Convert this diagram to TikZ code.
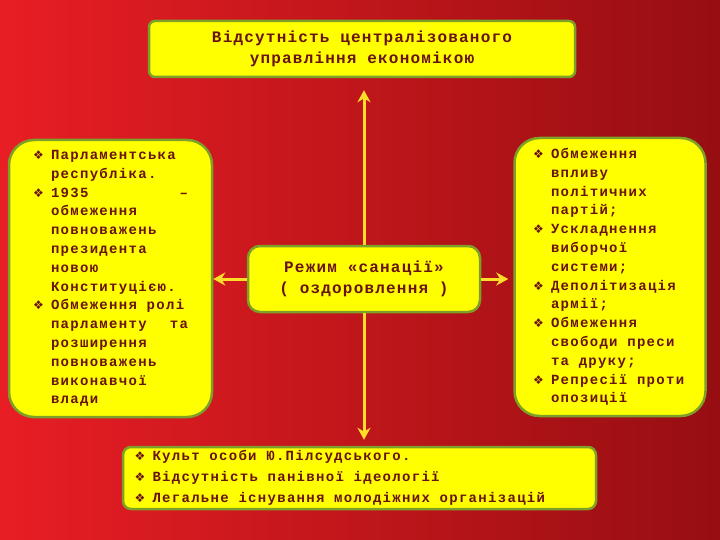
\documentclass[tikz,border=0pt]{standalone}
\usepackage{fontspec}
\usepackage{xcolor}
\usetikzlibrary{arrows.meta}
\newfontfamily\boxfont{Liberation Mono}[LetterSpace=9.3]
\newfontfamily\headfont{Liberation Mono}[LetterSpace=7.5]
\newfontfamily\symfont{DejaVu Sans}
\definecolor{bgred}{RGB}{232,30,36}
\definecolor{bgdark}{RGB}{150,14,18}
\definecolor{boxyellow}{RGB}{255,255,0}
\definecolor{boxrim}{RGB}{125,160,40}
\definecolor{txtred}{RGB}{105,18,18}
\definecolor{arryellow}{RGB}{255,222,40}
\newcommand{\bulmark}{\noindent\hangindent=18pt\hangafter=1\makebox[18pt][l]{\symfont\fontsize{12}{12}\selectfont ❖}}
\newcommand{\bul}{\par\bulmark}
\newcommand{\nl}{\unskip\hfil\break}
\newcommand{\wsp}{\spaceskip=9.7pt\relax\xspaceskip=9.7pt\relax}

\begin{document}
\begin{tikzpicture}[x=1pt,y=-1pt,
  box/.style={draw=boxrim,line width=2.5pt,fill=boxyellow,text=txtred,inner sep=0pt},
  body/.style={font=\boxfont\bfseries\fontsize{14}{18.8}\selectfont},
  head/.style={font=\headfont\bfseries\fontsize{16}{21}\selectfont,align=center},
  arr/.style={draw=arryellow,line width=3pt,-{Stealth[length=12pt,width=13pt]}}]
\useasboundingbox (0,0) rectangle (720,540);
\shade[left color=bgred,right color=bgdark] (0,0) rectangle (720,540);
\node[box,head,rounded corners=6pt,minimum width=426pt,minimum height=56pt] (econ) at (362,49)
  {Відсутність централізованого\\управління економікою};
\node[box,head,rounded corners=12pt,minimum width=232pt,minimum height=66pt] (regime) at (364,279)
  {Режим «санації»\\( оздоровлення )};
\node[box,body,rounded corners=25pt,minimum width=203pt,minimum height=277pt,text width=155pt] (parl) at (110.5,278.5)
  {\wsp\bulmark Парламентська\nl республіка.\bul 1935\hfill–\nl обмеження\nl повноважень\nl президента\nl новою\nl Конституцією.\bul Обмеження ролі\nl парламенту\hfill та\nl розширення\nl повноважень\nl виконавчої\nl влади\par};
\node[box,body,rounded corners=25pt,minimum width=191pt,minimum height=278pt,text width=154pt] (press) at (610,277)
  {\wsp\bulmark Обмеження\nl впливу\nl політичних\nl партій;\bul Ускладнення\nl виборчої\nl системи;\bul Деполітизація\nl армії;\bul Обмеження\nl свободи преси\nl та друку;\bul Репресії проти\nl опозиції\par};
\node[box,body,font=\boxfont\bfseries\fontsize{14}{21}\selectfont,rounded corners=8pt,minimum width=473pt,minimum height=62pt,text width=450pt] (cult) at (359.5,478)
  {\wsp\bulmark Культ особи Ю.Пілсудського.\bul Відсутність панівної ідеології\bul Легальне існування молодіжних організацій\par};
\draw[arr,shorten >=12pt] (regime.north) -- (regime.north |- econ.south);
\draw[arr,shorten >=6pt] (regime.south) -- (regime.south |- cult.north);
\draw[arr] (regime.west) -- (regime.west -| parl.east);
\draw[arr,shorten >=5pt] (regime.east) -- (regime.east -| press.west);
\end{tikzpicture}
\end{document}
